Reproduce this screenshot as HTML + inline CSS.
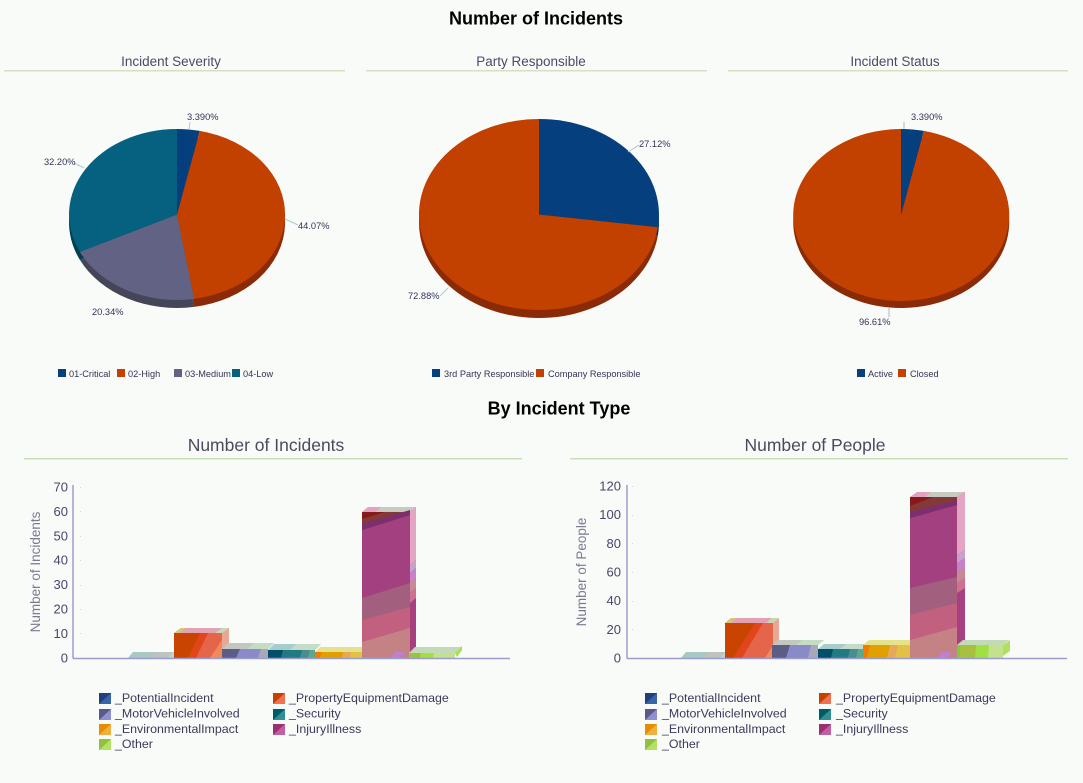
<!DOCTYPE html>
<html><head><meta charset="utf-8">
<style>
html,body{margin:0;padding:0;background:#f9fbf9;}
svg{display:block;}
text{font-family:"Liberation Sans",Arial,sans-serif;}
.t1{font-size:18px;font-weight:bold;fill:#000;}
.pt{font-size:13.5px;fill:#4a4a66;}
.st{font-size:17.5px;fill:#4a4a60;}
.pl{font-size:9.3px;fill:#333355;}
.lg{font-size:9.2px;fill:#333355;}
.tk{font-size:13px;fill:#46466a;}
.ax{font-size:13.5px;fill:#7a7a92;}
.bl{font-size:12.4px;fill:#3a3a5a;}
</style></head>
<body>
<svg width="1083" height="783" viewBox="0 0 1083 783" xmlns="http://www.w3.org/2000/svg">
<rect width="1083" height="783" fill="#f9fbf9"/>

<!-- Titles -->
<text class="t1" x="536" y="24.5" text-anchor="middle">Number of Incidents</text>
<text class="pt" x="171" y="66" text-anchor="middle">Incident Severity</text>
<text class="pt" x="531" y="66" text-anchor="middle">Party Responsible</text>
<text class="pt" x="895" y="66" text-anchor="middle">Incident Status</text>
<rect x="4" y="70" width="341" height="1.5" fill="#dcdcc4"/>
<rect x="366" y="70" width="341" height="1.5" fill="#dcdcc4"/>
<rect x="728" y="70" width="340" height="1.5" fill="#dcdcc4"/>

<!-- Pie 1 depth -->
<g transform="translate(0,8)">
<path d="M177,214.5 L177,129 A108,85.5 0 0 1 199.8,130.9 Z" fill="#032a55"/>
<path d="M177,214.5 L199.8,130.9 A108,85.5 0 0 1 194.2,298.9 Z" fill="#8a2a06"/>
<path d="M177,214.5 L194.2,298.9 A108,85.5 0 0 1 79.9,251.9 Z" fill="#45455a"/>
<path d="M177,214.5 L79.9,251.9 A108,85.5 0 0 1 177,129 Z" fill="#023f50"/>
</g>
<path d="M177,214.5 L177,129 A108,85.5 0 0 1 199.8,130.9 Z" fill="#063f7e"/>
<path d="M177,214.5 L199.8,130.9 A108,85.5 0 0 1 194.2,298.9 Z" fill="#c24000"/>
<path d="M177,214.5 L194.2,298.9 A108,85.5 0 0 1 79.9,251.9 Z" fill="#626384"/>
<path d="M177,214.5 L79.9,251.9 A108,85.5 0 0 1 177,129 Z" fill="#05617f"/>
<g stroke="#a8cccc" stroke-width="1" fill="none">
<line x1="189" y1="129" x2="190" y2="122"/>
<line x1="285" y1="219" x2="298" y2="225"/>
<line x1="74" y1="163" x2="84" y2="168"/>
</g>
<text class="pl" x="187" y="120">3.390%</text>
<text class="pl" x="298" y="229">44.07%</text>
<text class="pl" x="92" y="315">20.34%</text>
<text class="pl" x="44" y="165">32.20%</text>
<rect x="58" y="369" width="8" height="8" fill="#063f7e"/><text class="lg" x="69" y="377">01-Critical</text>
<rect x="117" y="369" width="8" height="8" fill="#c24000"/><text class="lg" x="128" y="377">02-High</text>
<rect x="174" y="369" width="8" height="8" fill="#626384"/><text class="lg" x="185" y="377">03-Medium</text>
<rect x="232" y="369" width="8" height="8" fill="#05617f"/><text class="lg" x="243" y="377">04-Low</text>

<!-- Pie 2 -->
<g transform="translate(0,8)">
<path d="M539,214.5 L539,119 A120,95.5 0 0 1 657.9,227.2 Z" fill="#032a55"/>
<path d="M539,214.5 L657.9,227.2 A120,95.5 0 1 1 539,119 Z" fill="#8a2a06"/>
</g>
<path d="M539,214.5 L539,119 A120,95.5 0 0 1 657.9,227.2 Z" fill="#063f7e"/>
<path d="M539,214.5 L657.9,227.2 A120,95.5 0 1 1 539,119 Z" fill="#c24000"/>
<g stroke="#a8cccc" stroke-width="1" fill="none">
<line x1="628" y1="152" x2="639" y2="145"/>
<line x1="440" y1="296" x2="448" y2="288"/>
</g>
<text class="pl" x="639" y="147">27.12%</text>
<text class="pl" x="408" y="299">72.88%</text>
<rect x="432" y="369" width="8" height="8" fill="#063f7e"/><text class="lg" x="444" y="377">3rd Party Responsible</text>
<rect x="536" y="369" width="8" height="8" fill="#c24000"/><text class="lg" x="548" y="377">Company Responsible</text>

<!-- Pie 3 -->
<g transform="translate(0,7)">
<path d="M901,215 L901,129 A108,86 0 0 1 923.8,130.9 Z" fill="#032a55"/>
<path d="M901,215 L923.8,130.9 A108,86 0 1 1 901,129 Z" fill="#8a2a06"/>
</g>
<path d="M901,215 L901,129 A108,86 0 0 1 923.8,130.9 Z" fill="#063f7e"/>
<path d="M901,215 L923.8,130.9 A108,86 0 1 1 901,129 Z" fill="#c24000"/>
<g stroke="#b0b8b8" stroke-width="1" fill="none">
<line x1="904" y1="122" x2="904" y2="129"/>
<line x1="889" y1="308" x2="889" y2="317"/>
</g>
<text class="pl" x="911" y="120">3.390%</text>
<text class="pl" x="859" y="325">96.61%</text>
<rect x="857" y="369" width="8" height="8" fill="#063f7e"/><text class="lg" x="868" y="377">Active</text>
<rect x="898" y="369" width="8" height="8" fill="#c24000"/><text class="lg" x="910" y="377">Closed</text>

<!-- Section 2 -->
<text class="t1" x="559" y="414.5" text-anchor="middle">By Incident Type</text>
<text class="st" x="266" y="451" text-anchor="middle">Number of Incidents</text>
<text class="st" x="815" y="451" text-anchor="middle">Number of People</text>
<rect x="24" y="458" width="498" height="1.5" fill="#c8e0b8"/>
<rect x="570" y="458" width="498" height="1.5" fill="#c8e0b8"/>

<!-- Chart 1 axes -->
<g class="tk" text-anchor="end">
<text x="68" y="662.5">0</text>
<text x="68" y="638">10</text>
<text x="68" y="613.6">20</text>
<text x="68" y="589.2">30</text>
<text x="68" y="564.7">40</text>
<text x="68" y="540.3">50</text>
<text x="68" y="515.9">60</text>
<text x="68" y="491.5">70</text>
</g>
<g fill="#c4dcdc">
<rect x="80" y="633" width="1" height="1"/><rect x="80" y="609" width="1" height="1"/><rect x="80" y="585" width="1" height="1"/><rect x="80" y="560" width="1" height="1"/><rect x="80" y="536" width="1" height="1"/><rect x="80" y="511" width="1" height="1"/><rect x="80" y="487" width="1" height="1"/>
</g>
<text class="ax" transform="translate(40,572) rotate(-90)" text-anchor="middle">Number of Incidents</text>

<!-- Chart 1 bars -->
<polygon points="128,658 173,658 178,652 133,652" fill="#a9c7c3"/>
<polygon points="150,658 173,658 178,652 155,652" fill="#bfc3bf"/>
<polygon points="168,658 174,658 179,652 173,652" fill="#b5d3e3"/>
<polygon points="174,633 222,633 229,628 181,628" fill="#e2a2b4"/>
<polygon points="174,633 180,633 186,628 181,628" fill="#d9c27a"/>
<polygon points="215,633 222,633 229,628 222,628" fill="#c5d9b6"/>
<rect x="174" y="633" width="48" height="25" fill="#c84400"/>
<polygon points="188,658 200,633 222,633 222,658" fill="#e0461a"/>
<polygon points="196,658 208,633 222,633 222,658" fill="#e4654a"/>
<polygon points="210,658 222,640 222,658" fill="#f08a5c"/>
<polygon points="222,633 229,628 229,653 222,658" fill="#e8a898"/>
<polygon points="222,649 268,649 274,643 228,643" fill="#c2c8c0"/>
<polygon points="248,649 268,649 274,643 254,643" fill="#c4dcc4"/>
<rect x="222" y="649" width="46" height="9" fill="#5c5c84"/>
<polygon points="236,658 240,649 268,649 268,658" fill="#8a8ac8"/>
<polygon points="258,658 261,649 268,649 268,658" fill="#a8a8b8"/>
<polygon points="268,650 315,650 321,644 274,644" fill="#a8cccc"/>
<polygon points="290,650 315,650 321,644 296,644" fill="#c4dcc8"/>
<rect x="268" y="650" width="47" height="8" fill="#005068"/>
<polygon points="281,658 283,650 315,650 315,658" fill="#1f7a82"/>
<polygon points="300,658 302,650 315,650 315,658" fill="#4a8c90"/>
<polygon points="308,658 310,650 315,650 315,658" fill="#5aa890"/>
<polygon points="315,652 362,652 367,647 320,647" fill="#e6e28a"/>
<rect x="315" y="652" width="47" height="6" fill="#e0a000"/>
<polygon points="315,652 322,652 320,658 315,658" fill="#f07c00"/>
<polygon points="342,658 343,652 362,652 362,658" fill="#e4aa5a"/>
<polygon points="350,658 351,652 362,652 362,658" fill="#e2c244"/>
<polygon points="362,512 410,512 416,507 368,507" fill="#c8cac0"/>
<polygon points="362,512 376,512 381,507 368,507" fill="#e2a2c2"/>
<rect x="362" y="512" width="48" height="146" fill="#a3407f"/>
<polygon points="362,512 410,512 410,515 362,530" fill="#843838"/>
<polygon points="362,524 410,510 410,515 362,530" fill="#7c2f6e"/>
<polygon points="362,512 385,512 362,519" fill="#861a1a"/>
<polygon points="362,598 410,583 410,658 362,658" fill="#a2607e"/>
<polygon points="362,620 410,607 410,658 362,658" fill="#c26080"/>
<polygon points="362,642 410,628 410,658 362,658" fill="#c48284"/>
<polygon points="390,658 395,652 405,652 400,658" fill="#c080d0"/>
<polygon points="410,512 416,507 416,652 410,658" fill="#a84080"/>
<polygon points="410,512 416,507 416,560 410,565" fill="#e4a4c4"/>
<polygon points="410,565 416,560 416,568 410,573" fill="#c4a4cc"/>
<polygon points="410,573 416,568 416,578 410,583" fill="#c882c8"/>
<polygon points="410,583 416,578 416,588 410,593" fill="#c88894"/>
<polygon points="410,593 416,588 416,598 410,603" fill="#d07090"/>
<polygon points="409,653 455,653 461,647 415,647" fill="#c2dab8"/>
<rect x="409" y="653" width="46" height="5" fill="#a0c040"/>
<polygon points="420,658 421,653 455,653 455,658" fill="#a4e040"/>
<polygon points="433,658 434,653 455,653 455,658" fill="#c4e28e"/>
<polygon points="455,653 462,646 462,650 457,657" fill="#a8e050"/>
<line x1="73" y1="485" x2="73" y2="658.5" stroke="#9c9ccc" stroke-width="1.5"/>
<line x1="73" y1="658.5" x2="510" y2="658.5" stroke="#9c9ccc" stroke-width="1.5"/>

<!-- Chart 2 axes -->
<g class="tk" text-anchor="end">
<text x="621" y="662.5">0</text>
<text x="621" y="633.8">20</text>
<text x="621" y="605.2">40</text>
<text x="621" y="576.5">60</text>
<text x="621" y="547.8">80</text>
<text x="621" y="519.2">100</text>
<text x="621" y="490.5">120</text>
</g>
<g fill="#c4dcdc">
<rect x="632" y="629" width="1" height="1"/><rect x="632" y="601" width="1" height="1"/><rect x="632" y="572" width="1" height="1"/><rect x="632" y="543" width="1" height="1"/><rect x="632" y="515" width="1" height="1"/><rect x="632" y="486" width="1" height="1"/>
</g>
<text class="ax" transform="translate(586,572) rotate(-90)" text-anchor="middle">Number of People</text>

<!-- Chart 2 bars -->
<polygon points="681,658 725,658 730,652 686,652" fill="#a9c7c3"/>
<polygon points="703,658 725,658 730,652 708,652" fill="#bfc3bf"/>
<polygon points="720,658 726,658 731,652 725,652" fill="#b5d3e3"/>
<polygon points="725,623 773,623 779,618 731,618" fill="#e2a2b4"/>
<polygon points="725,623 731,623 737,618 731,618" fill="#d9c27a"/>
<polygon points="766,623 773,623 779,618 772,618" fill="#c5d9b6"/>
<rect x="725" y="623" width="48" height="35" fill="#c84400"/>
<polygon points="733,658 755,623 773,623 773,658" fill="#e0461a"/>
<polygon points="742,658 763,623 773,623 773,658" fill="#e4654a"/>
<polygon points="765,658 773,645 773,658" fill="#f08a5c"/>
<polygon points="773,623 779,618 779,653 773,658" fill="#e8a898"/>
<polygon points="772,645 818,645 824,640 778,640" fill="#c2c8c0"/>
<polygon points="796,645 818,645 824,640 802,640" fill="#c4dcc4"/>
<rect x="772" y="645" width="46" height="13" fill="#5c5c84"/>
<polygon points="786,658 790,645 818,645 818,658" fill="#8a8ac8"/>
<polygon points="808,658 811,645 818,645 818,658" fill="#a8a8b8"/>
<polygon points="818,649 863,649 869,644 824,644" fill="#a8cccc"/>
<polygon points="840,649 863,649 869,644 846,644" fill="#c4dcc8"/>
<rect x="818" y="649" width="45" height="9" fill="#005068"/>
<polygon points="831,658 833,649 863,649 863,658" fill="#1f7a82"/>
<polygon points="848,658 850,649 863,649 863,658" fill="#4a8c90"/>
<polygon points="856,658 858,649 863,649 863,658" fill="#5aa890"/>
<polygon points="863,645 910,645 916,640 869,640" fill="#e6e28a"/>
<rect x="863" y="645" width="47" height="13" fill="#e0a000"/>
<polygon points="863,645 870,645 867,658 863,658" fill="#f07c00"/>
<polygon points="887,658 890,645 910,645 910,658" fill="#e4aa5a"/>
<polygon points="895,658 898,645 910,645 910,658" fill="#e2c244"/>
<polygon points="910,497 957,497 965,492 917,492" fill="#c8cac0"/>
<polygon points="910,497 925,497 931,492 917,492" fill="#e2a2c2"/>
<rect x="910" y="497" width="47" height="161" fill="#a3407f"/>
<polygon points="910,497 957,497 957,505 910,518" fill="#843838"/>
<polygon points="910,512 957,500 957,505 910,518" fill="#7c2f6e"/>
<polygon points="910,497 933,497 910,506" fill="#861a1a"/>
<polygon points="910,588 957,577 957,658 910,658" fill="#a2607e"/>
<polygon points="910,615 957,603 957,658 910,658" fill="#c26080"/>
<polygon points="910,640 957,627 957,658 910,658" fill="#c48284"/>
<polygon points="937,658 942,652 952,652 947,658" fill="#c080d0"/>
<polygon points="957,497 965,492 965,648 957,658" fill="#a84080"/>
<polygon points="957,497 965,492 965,550 957,555" fill="#e4a4c4"/>
<polygon points="957,555 965,550 965,558 957,563" fill="#c4a4cc"/>
<polygon points="957,563 965,558 965,568 957,573" fill="#c882c8"/>
<polygon points="957,573 965,568 965,578 957,583" fill="#c88894"/>
<polygon points="957,583 965,578 965,588 957,593" fill="#d07090"/>
<polygon points="957,645 1003,645 1009,640 963,640" fill="#c2dab8"/>
<rect x="957" y="645" width="46" height="13" fill="#a8c040"/>
<rect x="957" y="645" width="3" height="13" fill="#80c840"/>
<polygon points="975,658 976,645 1003,645 1003,658" fill="#a0e040"/>
<polygon points="988,658 989,645 1003,645 1003,658" fill="#c4e28e"/>
<polygon points="1003,645 1010,640 1010,651 1003,656" fill="#b0e060"/>
<line x1="627" y1="485" x2="627" y2="658.5" stroke="#9c9ccc" stroke-width="1.5"/>
<line x1="627" y1="658.5" x2="1067" y2="658.5" stroke="#9c9ccc" stroke-width="1.5"/>

<!-- Bar legends (left) -->
<g>
<rect x="99" y="693" width="12" height="11" fill="#1f3f7f"/><polygon points="111,693 111,704 99,704" fill="#3a64a8"/>
<text class="bl" x="115" y="702">_PotentialIncident</text>
<rect x="99" y="709" width="12" height="11" fill="#5a5a8a"/><polygon points="111,709 111,720 99,720" fill="#9090d0"/>
<text class="bl" x="115" y="717.5">_MotorVehicleInvolved</text>
<rect x="99" y="724" width="12" height="11" fill="#e88c00"/><polygon points="111,724 111,735 99,735" fill="#f0b040"/>
<text class="bl" x="115" y="733">_EnvironmentalImpact</text>
<rect x="99" y="739" width="12" height="11" fill="#90c040"/><polygon points="111,739 111,750 99,750" fill="#b4e064"/>
<text class="bl" x="115" y="748">_Other</text>
<rect x="273" y="693" width="12" height="11" fill="#c84000"/><polygon points="285,693 285,704 273,704" fill="#f07050"/>
<text class="bl" x="289" y="702">_PropertyEquipmentDamage</text>
<rect x="273" y="709" width="12" height="11" fill="#005a6a"/><polygon points="285,709 285,720 273,720" fill="#309090"/>
<text class="bl" x="289" y="717.5">_Security</text>
<rect x="273" y="724" width="12" height="11" fill="#9a3070"/><polygon points="285,724 285,735 273,735" fill="#c060a0"/>
<text class="bl" x="289" y="733">_InjuryIllness</text>
</g>
<!-- Bar legends (right) -->
<g>
<rect x="645" y="693" width="12" height="11" fill="#1f3f7f"/><polygon points="657,693 657,704 645,704" fill="#3a64a8"/>
<text class="bl" x="662" y="702">_PotentialIncident</text>
<rect x="645" y="709" width="12" height="11" fill="#5a5a8a"/><polygon points="657,709 657,720 645,720" fill="#9090d0"/>
<text class="bl" x="662" y="717.5">_MotorVehicleInvolved</text>
<rect x="645" y="724" width="12" height="11" fill="#e88c00"/><polygon points="657,724 657,735 645,735" fill="#f0b040"/>
<text class="bl" x="662" y="733">_EnvironmentalImpact</text>
<rect x="645" y="739" width="12" height="11" fill="#90c040"/><polygon points="657,739 657,750 645,750" fill="#b4e064"/>
<text class="bl" x="662" y="748">_Other</text>
<rect x="819" y="693" width="12" height="11" fill="#c84000"/><polygon points="831,693 831,704 819,704" fill="#f07050"/>
<text class="bl" x="836" y="702">_PropertyEquipmentDamage</text>
<rect x="819" y="709" width="12" height="11" fill="#005a6a"/><polygon points="831,709 831,720 819,720" fill="#309090"/>
<text class="bl" x="836" y="717.5">_Security</text>
<rect x="819" y="724" width="12" height="11" fill="#9a3070"/><polygon points="831,724 831,735 819,735" fill="#c060a0"/>
<text class="bl" x="836" y="733">_InjuryIllness</text>
</g>
</svg>
</body></html>
